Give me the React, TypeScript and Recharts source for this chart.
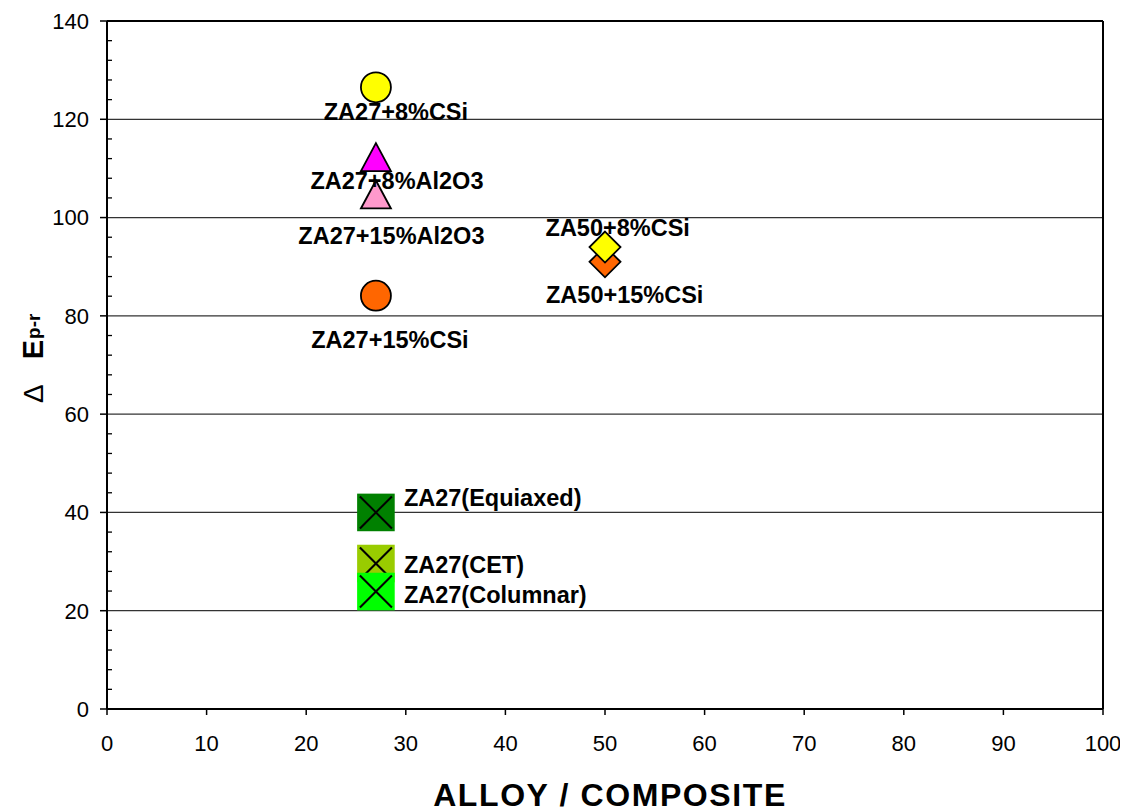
import React from 'react';
import { ScatterChart, Scatter, XAxis, YAxis, ReferenceLine } from 'recharts';

// ---------- data ----------
const pointNames = [
  'ZA27+8%CSi',
  'ZA27+8%Al2O3',
  'ZA27+15%Al2O3',
  'ZA27+15%CSi',
  'ZA50+15%CSi',
  'ZA50+8%CSi',
  'ZA27(Equiaxed)',
  'ZA27(CET)',
  'ZA27(Columnar)',
];
const xValues = [27, 27, 27, 27, 50, 50, 27, 27, 27];
const yValues = [126.5, 112.3, 104.7, 84.1, 91.0, 94.0, 40.0, 29.6, 23.9];

const xTicks = [0, 10, 20, 30, 40, 50, 60, 70, 80, 90, 100];
const yMajorTicks = [0, 20, 40, 60, 80, 100, 120, 140];
const yMinorTicks = [
  4, 8, 12, 16, 24, 28, 32, 36, 44, 48, 52, 56, 64, 68, 72, 76, 84, 88, 92, 96,
  104, 108, 112, 116, 124, 128, 132, 136,
];
const yGridValues = [20, 40, 60, 80, 100, 120];

// ---------- styles ----------
type MarkerStyle = { shape: 'circle' | 'triangle' | 'diamond' | 'xsquare'; fill: string };
const markerStyles: MarkerStyle[] = [
  { shape: 'circle', fill: '#FFFF00' },
  { shape: 'triangle', fill: '#FF00FF' },
  { shape: 'triangle', fill: '#FF99CC' },
  { shape: 'circle', fill: '#FF6600' },
  { shape: 'diamond', fill: '#FF6600' },
  { shape: 'diamond', fill: '#FFFF00' },
  { shape: 'xsquare', fill: '#008000' },
  { shape: 'xsquare', fill: '#99CC00' },
  { shape: 'xsquare', fill: '#00FF00' },
];
type LabelStyle = { anchor: 'middle' | 'start'; dx: number; dy: number };
const labelStyles: LabelStyle[] = [
  { anchor: 'middle', dx: 20, dy: 32.6 },
  { anchor: 'middle', dx: 21, dy: 31.5 },
  { anchor: 'middle', dx: 15.5, dy: 50 },
  { anchor: 'middle', dx: 14, dy: 52 },
  { anchor: 'middle', dx: 19.7, dy: 41 },
  { anchor: 'middle', dx: 12.7, dy: -10.7 },
  { anchor: 'start', dx: 28, dy: -6 },
  { anchor: 'start', dx: 28, dy: 9 },
  { anchor: 'start', dx: 28, dy: 11.5 },
];

const FONT = '"Liberation Sans", Arial, Helvetica, sans-serif';
const Y_TICK_SIZE = 7;
const Y_TICK_MARGIN = 11;
const X_TICK_SIZE = 6;
const X_TICK_MARGIN = 20;

const points = pointNames.map((name, i) => ({ x: xValues[i], y: yValues[i], name, i }));

const renderMarker = (props: any) => {
  const { cx, cy, payload } = props;
  if (cx == null || cy == null) return <g />;
  const st = markerStyles[payload.i];
  const stroke = '#000';
  if (st.shape === 'circle') {
    return <circle cx={cx} cy={cy} r={15} fill={st.fill} stroke={stroke} strokeWidth={1.8} />;
  }
  if (st.shape === 'triangle') {
    const h = 14;
    const w = 15;
    return (
      <polygon
        points={`${cx},${cy - h} ${cx + w},${cy + h} ${cx - w},${cy + h}`}
        fill={st.fill}
        stroke={stroke}
        strokeWidth={1.8}
        strokeLinejoin="miter"
      />
    );
  }
  if (st.shape === 'diamond') {
    const r = 15.5;
    return (
      <polygon
        points={`${cx},${cy - r} ${cx + r},${cy} ${cx},${cy + r} ${cx - r},${cy}`}
        fill={st.fill}
        stroke={stroke}
        strokeWidth={1.8}
      />
    );
  }
  const s = 18.8;
  const k = 16;
  return (
    <g>
      <rect x={cx - s} y={cy - s} width={2 * s} height={2 * s} fill={st.fill} />
      <line x1={cx - k} y1={cy - k} x2={cx + k} y2={cy + k} stroke="#000" strokeWidth={2} />
      <line x1={cx - k} y1={cy + k} x2={cx + k} y2={cy - k} stroke="#000" strokeWidth={2} />
    </g>
  );
};

const renderLabel = (props: any) => {
  const { cx, cy, payload } = props;
  if (cx == null || cy == null) return <g />;
  const ls = labelStyles[payload.i];
  return (
    <text
      x={cx + ls.dx}
      y={cy + ls.dy}
      textAnchor={ls.anchor}
      fontFamily={FONT}
      fontWeight="bold"
      fontSize={23.5}
      fill="#000"
    >
      {payload.name}
    </text>
  );
};

const YTick = (props: any) => {
  const { x, y, payload } = props;
  const axisX = x + Y_TICK_SIZE + Y_TICK_MARGIN;
  const major = yMajorTicks.includes(payload.value);
  return (
    <g>
      {major ? (
        <line x1={axisX - Y_TICK_SIZE} x2={axisX} y1={y} y2={y} stroke="#000" strokeWidth={1.5} />
      ) : (
        <line x1={axisX} x2={axisX + 5} y1={y} y2={y} stroke="#000" strokeWidth={1.3} />
      )}
      {major && (
        <text x={x} y={y} dy="0.355em" textAnchor="end" fontFamily={FONT} fontSize={22} fill="#000">
          {payload.value}
        </text>
      )}
    </g>
  );
};

const XTick = (props: any) => {
  const { x, y, payload } = props;
  const axisY = y - X_TICK_SIZE - X_TICK_MARGIN;
  return (
    <g>
      <line x1={x} x2={x} y1={axisY} y2={axisY + X_TICK_SIZE} stroke="#000" strokeWidth={1.5} />
      <text x={x} y={y} dy="0.71em" textAnchor="middle" fontFamily={FONT} fontSize={22} fill="#000">
        {payload.value}
      </text>
    </g>
  );
};

const XTitle = (props: any) => {
  const vb = props.viewBox || {};
  const cx = (vb.x ?? 0) + (vb.width ?? 0) / 2;
  return (
    <text
      x={cx + 5}
      y={(vb.y ?? 0) + 97}
      textAnchor="middle"
      fontFamily={FONT}
      fontWeight="bold"
      fontSize={32}
      letterSpacing={1.6}
      fill="#000"
    >
      ALLOY / COMPOSITE
    </text>
  );
};

const YTitle = (props: any) => {
  const vb = props.viewBox || {};
  const bx = 35.3;
  const by = (vb.y ?? 0) + (vb.height ?? 0) / 2 + 38;
  return (
    <text
      x={bx}
      y={by}
      transform={`rotate(-90, ${bx}, ${by})`}
      textAnchor="start"
      fontFamily={FONT}
      fill="#000"
    >
      <tspan fontSize={28}>Δ</tspan>
      <tspan dx={25} fontSize={29} fontWeight="bold">E</tspan>
      <tspan dx={1} dy={-3} fontSize={19} fontWeight="bold">p-r</tspan>
    </text>
  );
};

export default function App() {
  return (
    <div style={{ width: 1120, height: 804, background: '#fff' }}>
      <ScatterChart
        width={1120}
        height={804}
        margin={{ top: 13, right: 25, left: 19, bottom: 43 }}
      >
        <XAxis
          type="number"
          dataKey="x"
          domain={[0, 100]}
          ticks={xTicks}
          interval={0}
          height={60}
          axisLine={{ stroke: '#000', strokeWidth: 2 }}
          tickLine={false}
          tickSize={X_TICK_SIZE}
          tickMargin={X_TICK_MARGIN}
          tick={<XTick />}
          allowDataOverflow
          label={<XTitle />}
        />
        <YAxis
          type="number"
          dataKey="y"
          domain={[0, 140]}
          ticks={[...yMajorTicks, ...yMinorTicks].sort((a, b) => a - b)}
          interval={0}
          width={80}
          axisLine={{ stroke: '#000', strokeWidth: 2 }}
          tickLine={false}
          tickSize={Y_TICK_SIZE}
          tickMargin={Y_TICK_MARGIN}
          tick={<YTick />}
          allowDataOverflow
          label={<YTitle />}
        />
        {yGridValues.map((v) => (
          <ReferenceLine key={v} y={v} stroke="#333" strokeWidth={1.2} />
        ))}
        <ReferenceLine y={140} stroke="#000" strokeWidth={2} />
        <ReferenceLine x={100} stroke="#000" strokeWidth={2} />
        <Scatter data={points} shape={renderMarker} isAnimationActive={false} />
        <Scatter data={points} shape={renderLabel} isAnimationActive={false} />
      </ScatterChart>
    </div>
  );
}
